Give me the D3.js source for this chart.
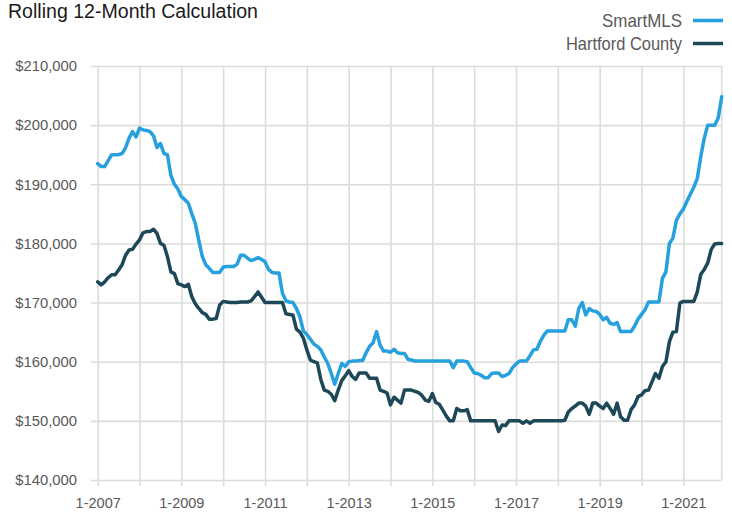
<!DOCTYPE html>
<html>
<head>
<meta charset="utf-8">
<script src="https://cdn.jsdelivr.net/npm/d3@7/dist/d3.min.js"></script>
<style>
  html, body { margin: 0; padding: 0; background: #fff; }
  svg { display: block; font-family: "Liberation Sans", Arial, sans-serif; }
</style>
</head>
<body>
<svg id="chart" width="732" height="515"></svg>
<script>
// ---- Data (values in thousands of dollars), monthly 1-2007 .. 12-2021 ----
const startYear = 2007;
const smartMLS = [
  193.5,193.0,193.0,194.0,195.0,195.0,195.0,195.2,196.2,197.8,
  198.9,198.0,199.5,199.2,199.1,198.9,198.2,196.2,196.9,195.2,
  195.0,191.5,190.0,189.2,187.9,187.4,186.8,185.0,183.4,180.5,
  177.8,176.4,175.8,175.1,175.1,175.1,176.0,176.1,176.1,176.1,
  176.5,178.0,178.0,177.5,177.1,177.3,177.6,177.3,176.9,175.6,
  175.1,175.0,175.0,171.6,170.3,170.1,170.0,169.0,167.6,165.2,
  164.6,163.8,163.0,162.6,162.0,160.8,159.7,158.0,156.2,158.0,
  159.7,159.2,160.0,160.1,160.1,160.2,160.2,161.5,162.6,163.2,
  165.1,162.8,161.8,161.8,161.6,162.1,161.5,161.4,161.4,160.4,
  160.3,160.1,160.1,160.1,160.1,160.1,160.1,160.1,160.1,160.1,
  160.1,160.1,159.0,160.1,160.1,160.1,160.0,159.0,158.1,158.0,
  157.7,157.3,157.3,158.0,158.1,158.1,157.5,157.7,158.0,159.0,
  159.6,160.1,160.1,160.1,161.0,162.0,162.1,163.5,164.5,165.2,
  165.2,165.2,165.2,165.2,165.2,167.1,167.1,166.0,169.0,170.0,
  167.9,169.0,168.6,168.5,168.0,167.1,167.5,166.5,166.3,166.6,
  165.1,165.1,165.1,165.1,166.0,167.2,168.0,168.8,170.1,170.1,
  170.1,170.1,174.1,175.2,180.0,180.9,183.9,185.0,185.8,187.1,
  188.3,189.5,191.0,194.7,197.8,200.0,200.0,200.0,201.2,204.8
];
const hartford = [
  173.5,173.0,173.5,174.2,174.7,174.7,175.5,176.4,178.0,178.9,
  179.0,179.9,180.6,181.8,182.0,182.0,182.4,181.7,180.0,179.7,
  177.8,175.2,174.9,173.2,173.0,172.7,173.1,171.0,169.8,169.0,
  168.3,168.0,167.2,167.2,167.3,169.6,170.2,170.1,170.0,170.0,
  170.0,170.1,170.1,170.1,170.3,171.0,171.8,170.9,170.0,170.0,
  170.0,170.0,170.0,170.0,168.1,168.0,167.9,165.5,165.0,164.0,
  162.0,160.3,160.0,159.8,157.0,155.2,155.0,154.5,153.4,155.2,
  156.8,157.6,158.5,157.5,157.0,158.1,158.1,158.1,157.2,157.2,
  157.2,155.2,155.0,154.7,152.7,154.0,153.5,153.0,155.2,155.2,
  155.2,155.0,154.8,154.3,153.5,153.3,154.6,153.1,152.8,151.8,
  150.8,150.0,150.0,152.1,151.7,151.7,151.9,150.0,150.0,150.0,
  150.0,150.0,150.0,150.0,150.0,148.2,149.3,149.2,150.0,150.0,
  150.0,150.0,149.6,150.0,149.6,150.0,150.0,150.0,150.0,150.0,
  150.0,150.0,150.0,150.0,150.1,151.5,152.1,152.5,153.0,153.0,
  152.5,151.1,153.0,153.0,152.5,152.1,153.0,152.1,151.1,153.0,
  150.7,150.1,150.1,151.9,152.7,154.1,154.4,155.1,155.2,156.6,
  158.0,157.2,159.2,160.0,163.4,165.0,165.1,169.9,170.2,170.2,
  170.2,170.2,171.8,174.8,175.6,176.7,179.0,179.9,180.0,180.0
];
const yTickValues = [140, 150, 160, 170, 180, 190, 200, 210];
const yTickLabels = ["$140,000","$150,000","$160,000","$170,000","$180,000","$190,000","$200,000","$210,000"];
const xGridMonths = [0,12,24,36,48,60,72,84,96,108,120,132,144,156,168];
const xLabelMonths = [0,24,48,72,96,120,144,168];
const xLabels = ["1-2007","1-2009","1-2011","1-2013","1-2015","1-2017","1-2019","1-2021"];
const seriesNames = ["SmartMLS", "Hartford County"];
const seriesColors = ["#26a0de", "#1d4858"];

// ---- Layout ----
const L = 97.7, R = 721.7, T = 66, B = 480;
const svg = d3.select("#chart");

const x = d3.scaleLinear().domain([0, smartMLS.length - 1]).range([L, R]);
const y = d3.scaleLinear().domain([140, 210]).range([B, T]);

// Horizontal grid + y labels
const yAxis = d3.axisLeft(y)
  .tickValues(yTickValues)
  .tickFormat((d, i) => yTickLabels[i])
  .tickSize(-(R - 91))
  .tickPadding(14);
const gy = svg.append("g").attr("transform", "translate(91,0)").call(yAxis);
gy.select(".domain").remove();
gy.selectAll(".tick line").attr("stroke", "#dcdcdc").attr("stroke-width", 1.6);
gy.selectAll(".tick text").attr("fill", "#595959").style("font-size", "14.8px")
  .attr("font-family", "'Liberation Sans', Arial, sans-serif");

// Vertical grid (extends below the plot as ticks)
const xGrid = d3.axisBottom(x).tickValues(xGridMonths).tickFormat("").tickSize(-(486 - T));
const gx = svg.append("g").attr("transform", "translate(0,486)").call(xGrid);
gx.select(".domain").remove();
gx.selectAll(".tick line").attr("stroke", "#dcdcdc").attr("stroke-width", 1.6);

// Right edge line
svg.append("line")
  .attr("x1", x(smartMLS.length - 1)).attr("x2", x(smartMLS.length - 1))
  .attr("y1", T).attr("y2", B)
  .attr("stroke", "#dcdcdc").attr("stroke-width", 1.6);

// X labels
const xAxis = d3.axisBottom(x).tickValues(xLabelMonths)
  .tickFormat((d, i) => xLabels[i]).tickSize(0).tickPadding(18);
const gxl = svg.append("g").attr("transform", `translate(0,${B})`).call(xAxis);
gxl.select(".domain").remove();
gxl.selectAll(".tick text").attr("fill", "#595959").style("font-size", "14.5px")
  .attr("font-family", "'Liberation Sans', Arial, sans-serif");

// Lines
const line = d3.line().x((d, i) => x(i)).y(d => y(d)).curve(d3.curveLinear);
[hartford, smartMLS].forEach((s, k) => {
  const idx = k === 0 ? 1 : 0;
  svg.append("path").datum(s)
    .attr("fill", "none")
    .attr("stroke", seriesColors[idx])
    .attr("stroke-width", 3.5)
    .attr("stroke-linejoin", "round")
    .attr("stroke-linecap", "round")
    .attr("d", line);
});

// Title
svg.append("text")
  .attr("x", 8).attr("y", 18)
  .attr("fill", "#1a1a1a")
  .style("font-size", "19.5px")
  .attr("textLength", 250).attr("lengthAdjust", "spacingAndGlyphs")
  .text("Rolling 12-Month Calculation");

// Legend
const legendY = [20.5, 43.5];
const legendW = [80, 116];
seriesNames.forEach((name, i) => {
  svg.append("text")
    .attr("x", 682).attr("y", legendY[i] + 6.5)
    .attr("text-anchor", "end")
    .attr("fill", "#595959")
    .style("font-size", "18.5px")
    .attr("textLength", legendW[i]).attr("lengthAdjust", "spacingAndGlyphs")
    .text(name);
  svg.append("line")
    .attr("x1", 693).attr("x2", 723)
    .attr("y1", legendY[i]).attr("y2", legendY[i])
    .attr("stroke", seriesColors[i]).attr("stroke-width", 3.5);
});
</script>
</body>
</html>
